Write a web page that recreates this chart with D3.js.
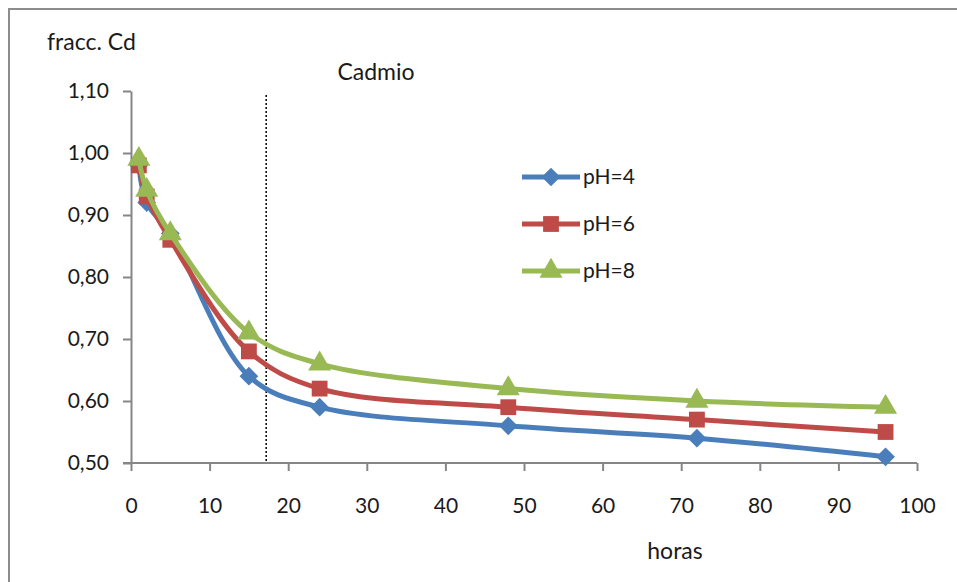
<!DOCTYPE html>
<html>
<head>
<meta charset="utf-8">
<script src="https://cdn.jsdelivr.net/npm/d3@7"></script>
<style>
  body { margin: 0; background: #fff; }
  svg text { font-family: Lato, "Open Sans", sans-serif; fill: #1a1a1a; }
  .axis path, .axis line { stroke: #868686; stroke-width: 2; }
  .axis text { font-size: 21px; }
</style>
</head>
<body>
<div id="chart"></div>
<script>
const hours = [1, 2, 5, 15, 24, 48, 72, 96];
const ph4 = [0.98, 0.92, 0.87, 0.64, 0.59, 0.56, 0.54, 0.51];
const ph6 = [0.98, 0.93, 0.86, 0.68, 0.62, 0.59, 0.57, 0.55];
const ph8 = [0.99, 0.94, 0.87, 0.71, 0.66, 0.62, 0.60, 0.59];
const seriesNames = ['pH=4', 'pH=6', 'pH=8'];
const xTicks = [0, 10, 20, 30, 40, 50, 60, 70, 80, 90, 100];
const yTicks = [0.5, 0.6, 0.7, 0.8, 0.9, 1.0, 1.1];
const markerLineX = 17.2;

function chartInit() {
  const width = 957;
  const height = 582;
  const colors = ['#4a7ebb', '#be4b48', '#98b954'];
  const symbols = [d3.symbolSquare, d3.symbolSquare, d3.symbolTriangle];
  const symbolSizes = [175, 250, 230];
  const rotations = [45, 0, 0];

  const svg = d3.select('#chart')
    .append('svg')
    .attr('width', width)
    .attr('height', height);

  // outer frame (only top and left visible in the picture)
  svg.append('rect')
    .attr('x', 9).attr('y', 9)
    .attr('width', 1000).attr('height', 700)
    .attr('fill', 'none')
    .attr('stroke', '#8c8c8c')
    .attr('stroke-width', 2);

  const xScale = d3.scaleLinear().domain([0, 100]).range([131, 917]);
  const yScale = d3.scaleLinear().domain([0.5, 1.1]).range([463, 91]);

  const xAxis = d3.axisBottom(xScale)
    .tickValues(xTicks)
    .tickSize(8)
    .tickSizeOuter(0)
    .tickPadding(27)
    .tickFormat(d3.format('d'));

  const yAxis = d3.axisLeft(yScale)
    .tickValues(yTicks)
    .tickSize(8)
    .tickSizeOuter(0)
    .tickPadding(14)
    .tickFormat((d) => d.toFixed(2).replace('.', ','));

  svg.append('g')
    .attr('class', 'x axis')
    .attr('transform', `translate(0, ${yScale(0.5)})`)
    .call(xAxis);

  svg.append('g')
    .attr('class', 'y axis')
    .attr('transform', `translate(${xScale(0)}, 0)`)
    .call(yAxis);

  // x axis line starts a bit left of the y axis (y tick 0,50)
  svg.select('.x.axis .domain').attr('d', `M${xScale(0) - 8},0H${xScale(100)}`);

  // dotted vertical line
  svg.append('line')
    .attr('x1', xScale(markerLineX)).attr('x2', xScale(markerLineX))
    .attr('y1', 95).attr('y2', yScale(0.5))
    .attr('stroke', '#000')
    .attr('stroke-width', 1.5)
    .attr('stroke-dasharray', '2,2');

  const allSeries = [ph4, ph6, ph8].map((vals, i) => ({
    name: seriesNames[i],
    color: colors[i],
    symbol: symbols[i],
    size: symbolSizes[i],
    rot: rotations[i],
    points: vals.map((v, j) => ({ x: hours[j], y: v })),
  }));

  const line = d3.line()
    .x((d) => xScale(d.x))
    .y((d) => yScale(d.y))
    .curve(d3.curveCatmullRom.alpha(0.5));

  allSeries.forEach((s) => {
    svg.append('path')
      .datum(s.points)
      .attr('fill', 'none')
      .attr('stroke', s.color)
      .attr('stroke-width', 5)
      .attr('stroke-linejoin', 'round')
      .attr('d', line);

    svg.selectAll(null)
      .data(s.points)
      .enter()
      .append('path')
      .attr('transform', (d) => `translate(${xScale(d.x)}, ${yScale(d.y)}) rotate(${s.rot})`)
      .attr('fill', s.color)
      .attr('d', d3.symbol().type(s.symbol).size(s.size));
  });

  // legend
  const legend = svg.append('g').attr('transform', 'translate(522, 177)');
  allSeries.forEach((s, i) => {
    const g = legend.append('g').attr('transform', `translate(0, ${i * 47})`);
    g.append('line')
      .attr('x1', 0).attr('x2', 58)
      .attr('stroke', s.color)
      .attr('stroke-width', 5);
    g.append('path')
      .attr('transform', `translate(29, 0) rotate(${s.rot})`)
      .attr('fill', s.color)
      .attr('d', d3.symbol().type(s.symbol).size(s.size));
    g.append('text')
      .attr('x', 61)
      .attr('dy', '0.35em')
      .style('font-size', '21px')
      .text(s.name);
  });

  // titles
  svg.append('text')
    .attr('x', 376).attr('y', 80)
    .attr('text-anchor', 'middle')
    .style('font-size', '23px')
    .text('Cadmio');

  svg.append('text')
    .attr('x', 47).attr('y', 50)
    .style('font-size', '23px')
    .text('fracc. Cd');

  svg.append('text')
    .attr('x', 675).attr('y', 559)
    .attr('text-anchor', 'middle')
    .style('font-size', '23px')
    .text('horas');
}

window.onload = chartInit;
</script>
</body>
</html>
